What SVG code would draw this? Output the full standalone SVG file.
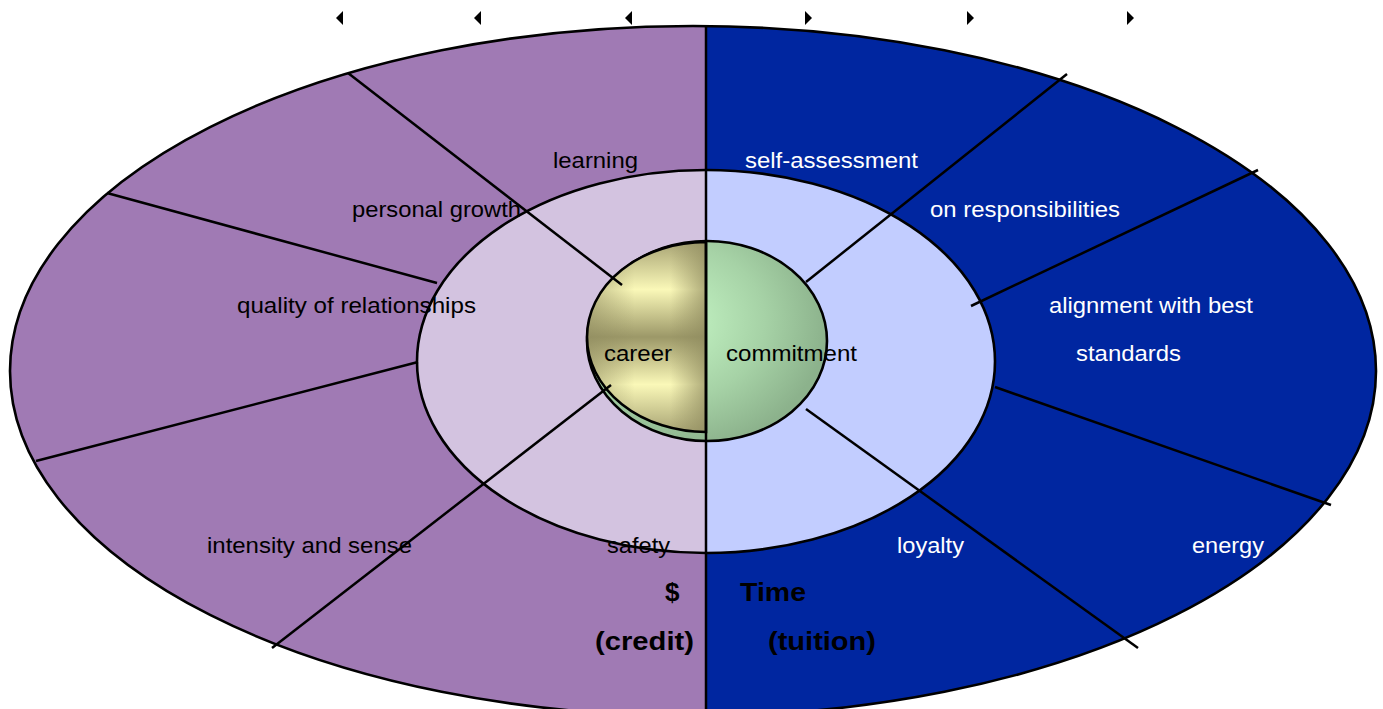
<svg xmlns="http://www.w3.org/2000/svg" width="1383" height="709" viewBox="0 0 1383 709">
<style>
.lbl{font-family:"Liberation Sans",Arial,sans-serif;font-size:22px;fill:#000}
.w{fill:#fff}
.b{font-family:"Liberation Sans",Arial,sans-serif;font-size:26px;font-weight:bold;fill:#000}
.ln{stroke:#000;stroke-width:2.5;fill:none}
.ol{stroke:#000;stroke-width:2.6}
</style>
<defs>
<clipPath id="cl"><rect x="0" y="0" width="706" height="709"/></clipPath>
<clipPath id="cr"><rect x="706" y="0" width="677" height="709"/></clipPath>
<radialGradient id="gg" cx="0.35" cy="0.4" r="0.65">
<stop offset="0" stop-color="#C6F7C6"/>
<stop offset="0.6" stop-color="#A6D2A6"/>
<stop offset="1" stop-color="#8CB28C"/>
</radialGradient>
<linearGradient id="yv" x1="0" y1="0" x2="0" y2="1">
<stop offset="0" stop-color="#A8A474"/>
<stop offset="0.25" stop-color="#FAF8B8"/>
<stop offset="0.5" stop-color="#9C9868"/>
<stop offset="0.75" stop-color="#FAF8B8"/>
<stop offset="1" stop-color="#A8A474"/>
</linearGradient>
<linearGradient id="yh" x1="0" y1="0" x2="1" y2="0">
<stop offset="0" stop-color="#8E8A5E" stop-opacity="0.55"/>
<stop offset="0.4" stop-color="#8E8A5E" stop-opacity="0"/>
<stop offset="0.7" stop-color="#8E8A5E" stop-opacity="0"/>
<stop offset="1" stop-color="#8E8A5E" stop-opacity="0.7"/>
</linearGradient>
<path id="arL" d="M0,0 L7,-7 L7,7 Z"/>
<path id="arR" d="M0,0 L-7,-7 L-7,7 Z"/>
</defs>

<g id="outer">
<ellipse cx="693" cy="371" rx="683" ry="345" fill="#A07AB4" clip-path="url(#cl)"/>
<ellipse cx="693" cy="371" rx="683" ry="345" fill="#0026A0" clip-path="url(#cr)"/>
<ellipse cx="693" cy="371" rx="683" ry="345" fill="none" class="ol"/>
</g>

<g id="middle">
<ellipse cx="706" cy="361.5" rx="289" ry="191.5" fill="#D3C3E0" clip-path="url(#cl)"/>
<ellipse cx="706" cy="361.5" rx="289" ry="191.5" fill="#C2CDFF" clip-path="url(#cr)"/>
<ellipse cx="706" cy="361.5" rx="289" ry="191.5" fill="none" class="ol"/>
</g>

<g id="core">
<ellipse cx="707" cy="341" rx="120" ry="100" fill="url(#gg)" class="ol"/>
<path d="M706,242 A119,95 0 0,0 706,432 Z" fill="url(#yv)"/>
<path d="M706,242 A119,95 0 0,0 706,432 Z" fill="url(#yh)" class="ol"/>
</g>

<g id="connectors">
<line class="ln" x1="706" y1="26" x2="706" y2="709"/>
<line class="ln" x1="348" y1="73" x2="622" y2="285"/>
<line class="ln" x1="107" y1="193" x2="437" y2="283"/>
<line class="ln" x1="36" y1="461" x2="418" y2="362"/>
<line class="ln" x1="272" y1="648" x2="611" y2="385"/>
<line class="ln" x1="1067" y1="74" x2="806" y2="282"/>
<line class="ln" x1="1258" y1="170" x2="971" y2="306"/>
<line class="ln" x1="995" y1="387" x2="1331" y2="505"/>
<line class="ln" x1="806" y1="409" x2="1138" y2="648"/>
</g>

<g id="arrows" fill="#000">
<use href="#arL" x="336" y="18"/>
<use href="#arL" x="474" y="18"/>
<use href="#arL" x="625" y="18"/>
<use href="#arR" x="812" y="18"/>
<use href="#arR" x="974" y="18"/>
<use href="#arR" x="1134" y="18"/>
</g>

<g id="labels">
<text class="lbl" x="553" y="168" textLength="85" lengthAdjust="spacingAndGlyphs">learning</text>
<text class="lbl w" x="745" y="168" textLength="173" lengthAdjust="spacingAndGlyphs">self-assessment</text>
<text class="lbl" x="352" y="217" textLength="169" lengthAdjust="spacingAndGlyphs">personal growth</text>
<text class="lbl w" x="930" y="217" textLength="190" lengthAdjust="spacingAndGlyphs">on responsibilities</text>
<text class="lbl" x="237" y="313" textLength="239" lengthAdjust="spacingAndGlyphs">quality of relationships</text>
<text class="lbl w" x="1049" y="313" textLength="204" lengthAdjust="spacingAndGlyphs">alignment with best</text>
<text class="lbl w" x="1076" y="361" textLength="105" lengthAdjust="spacingAndGlyphs">standards</text>
<text class="lbl" x="604" y="361" textLength="68" lengthAdjust="spacingAndGlyphs">career</text>
<text class="lbl" x="726" y="361" textLength="131" lengthAdjust="spacingAndGlyphs">commitment</text>
<text class="lbl" x="207" y="553" textLength="205" lengthAdjust="spacingAndGlyphs">intensity and sense</text>
<text class="lbl" x="607" y="553" textLength="63" lengthAdjust="spacingAndGlyphs">safety</text>
<text class="lbl w" x="897" y="553" textLength="67" lengthAdjust="spacingAndGlyphs">loyalty</text>
<text class="lbl w" x="1192" y="553" textLength="72" lengthAdjust="spacingAndGlyphs">energy</text>
<text class="b" x="665" y="601">$</text>
<text class="b" x="740" y="601" textLength="66" lengthAdjust="spacingAndGlyphs">Time</text>
<text class="b" x="595" y="650" textLength="99" lengthAdjust="spacingAndGlyphs">(credit)</text>
<text class="b" x="768" y="650" textLength="108" lengthAdjust="spacingAndGlyphs">(tuition)</text>
</g>
</svg>
